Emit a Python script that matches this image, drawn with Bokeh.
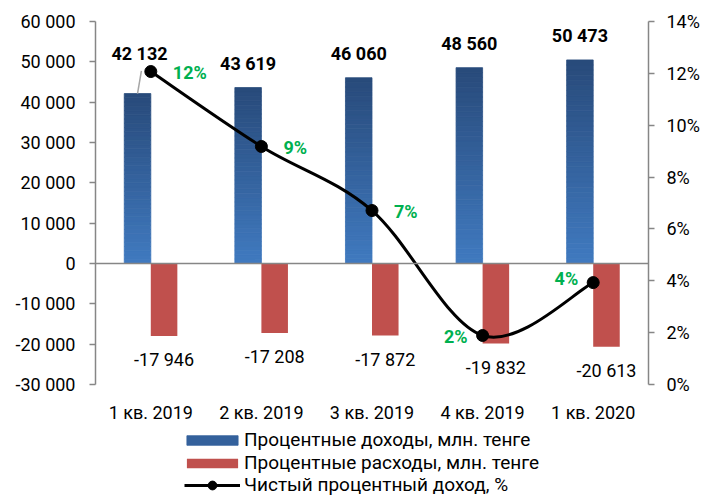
import numpy as np
from bokeh.plotting import figure
from bokeh.models import (Range1d, LinearAxis, FixedTicker, Span, Legend, LegendItem,
                          ColumnDataSource)
from bokeh.core.properties import value
from bokeh.embed import file_html
from bokeh.resources import INLINE

# ---------------- data ----------------
quarters = ["1 кв. 2019", "2 кв. 2019", "3 кв. 2019", "4 кв. 2019", "1 кв. 2020"]
income = [42132, 43619, 46060, 48560, 50473]          # Процентные доходы
expense = [-17946, -17208, -17872, -19832, -20613]    # Процентные расходы
net_margin = [12.07, 9.18, 6.71, 1.89, 3.93]           # Чистый процентный доход, %
margin_labels = ["12%", "9%", "7%", "2%", "4%"]
left_ticks = [-30000, -20000, -10000, 0, 10000, 20000, 30000, 40000, 50000, 60000]
left_tick_labels = ["-30 000", "-20 000", "-10 000", "0", "10 000", "20 000",
                    "30 000", "40 000", "50 000", "60 000"]
right_ticks = [0, 2, 4, 6, 8, 10, 12, 14]
right_tick_labels = ["0%", "2%", "4%", "6%", "8%", "10%", "12%", "14%"]
series_names = ["Процентные доходы, млн. тенге",
                "Процентные расходы, млн. тенге",
                "Чистый процентный доход, %"]

FONT = "Roboto"
AXIS_COLOR = "#868686"
RED = "#c0504d"
GREEN = "#00b050"
BLUE_TOP = np.array([40, 74, 122])
BLUE_BOTTOM = np.array([64, 122, 192])

# plot box: the axes occupy 363 px, and 112 px are kept below them for
# the category labels and the legend (drawn inside the same frame)
AXIS_PX, BELOW_PX = 363, 112
L0, L1 = left_ticks[0], left_ticks[-1]
R0, R1 = right_ticks[0], right_ticks[-1]
left_start = L0 - (L1 - L0) * BELOW_PX / AXIS_PX
right_start = R0 - (R1 - R0) * BELOW_PX / AXIS_PX


def fmt(v):
    return f"{v:,}".replace(",", " ")


xs = np.arange(1, len(quarters) + 1)
BW = 0.24

p = figure(width=707, height=496, output_backend="svg", toolbar_location=None,
           x_axis_location=None,
           x_range=Range1d(0.5, len(quarters) + 0.5), y_range=Range1d(left_start, L1),
           min_border_left=95, min_border_right=59, min_border_top=21, min_border_bottom=0)
p.outline_line_color = None
p.grid.visible = False
p.background_fill_color = "white"
p.border_fill_color = "white"
p.extra_y_ranges = {"pct": Range1d(right_start, R1)}

# ---- axes ----
p.yaxis.ticker = FixedTicker(ticks=left_ticks)
p.yaxis.bounds = (L0, L1)
p.yaxis.major_label_overrides = {t: l for t, l in zip(left_ticks, left_tick_labels)}
p.yaxis.axis_line_color = AXIS_COLOR
p.yaxis.axis_line_width = 1.5
p.yaxis.major_tick_line_color = AXIS_COLOR
p.yaxis.major_tick_line_width = 1.5
p.yaxis.major_tick_out = 6
p.yaxis.major_tick_in = 0
p.yaxis.minor_tick_line_color = None
p.yaxis.major_label_standoff = 14
p.yaxis.major_label_text_font = FONT
p.yaxis.major_label_text_font_size = "18px"
p.yaxis.major_label_text_color = "black"

ry = LinearAxis(y_range_name="pct", ticker=FixedTicker(ticks=right_ticks), bounds=(R0, R1))
ry.major_label_overrides = {t: l for t, l in zip(right_ticks, right_tick_labels)}
ry.axis_line_color = AXIS_COLOR
ry.axis_line_width = 1.5
ry.major_tick_line_color = AXIS_COLOR
ry.major_tick_line_width = 1.5
ry.major_tick_out = 6
ry.major_tick_in = 0
ry.minor_tick_line_color = None
ry.major_label_standoff = 12
ry.major_label_text_font = FONT
ry.major_label_text_font_size = "18px"
ry.major_label_text_color = "black"
p.add_layout(ry, "right")

p.add_layout(Span(location=0, dimension="width", line_color=AXIS_COLOR, line_width=1.5))

# category labels under the axes
p.text(x=list(xs), y=[L0] * len(xs), text=quarters, y_offset=28,
       text_align="center", text_baseline="middle", text_font=value(FONT),
       text_font_size="18px", text_color="black")

# ---- income bars with vertical gradient (slices of each bar) ----
N = 40
bx, bb, bt, bc = [], [], [], []
for x, v in zip(xs, income):
    for k in range(N):
        f = (k + 0.5) / N
        c = BLUE_BOTTOM + (BLUE_TOP - BLUE_BOTTOM) * f
        col = "#%02x%02x%02x" % tuple(int(round(t)) for t in c)
        bx.append(x - BW / 2)
        bb.append(v * k / N)
        bt.append(v * (k + 1) / N)
        bc.append(col)
blue_src = ColumnDataSource(dict(x=bx, bottom=bb, top=bt, color=bc))
blue_r = p.vbar(x="x", bottom="bottom", top="top", width=BW, fill_color="color",
                line_color="color", line_width=0.8, source=blue_src)

red_r = p.vbar(x=xs + BW / 2, top=expense, bottom=0, width=BW, fill_color=RED, line_color=None)

# ---- smoothed net-margin line (cubic Bezier through the points) ----
px = list(xs.astype(float))
py = list(net_margin)
n = len(px)
x0s, y0s, x1s, y1s, cx0, cy0, cx1, cy1 = [], [], [], [], [], [], [], []
for i in range(n - 1):
    xp, yp = (px[i - 1], py[i - 1]) if i > 0 else (px[i], py[i])
    xn, yn = (px[i + 2], py[i + 2]) if i + 2 < n else (px[i + 1], py[i + 1])
    x0s.append(px[i]); y0s.append(py[i]); x1s.append(px[i + 1]); y1s.append(py[i + 1])
    cx0.append(px[i] + (px[i + 1] - xp) / 6); cy0.append(py[i] + (py[i + 1] - yp) / 6)
    cx1.append(px[i + 1] - (xn - px[i]) / 6); cy1.append(py[i + 1] - (yn - py[i]) / 6)
line_r = p.bezier(x0=x0s, y0=y0s, x1=x1s, y1=y1s, cx0=cx0, cy0=cy0, cx1=cx1, cy1=cy1,
                  line_color="black", line_width=3, y_range_name="pct")
mark_r = p.scatter(x=xs, y=net_margin, size=12, marker="circle", fill_color="black",
                   line_color="black", y_range_name="pct")

# ---- data labels ----
inc_txt = [fmt(v) for v in income]
# first label is lifted above the line marker, with a leader line
p.segment(x0=[xs[0] - BW / 2], y0=[income[0]], x1=[xs[0] - BW / 2 + 0.035],
          y1=[income[0] + 5600], line_color="#a6a6a6", line_width=1.5)
p.text(x=[xs[0] - BW / 2], y=[income[0]], text=[inc_txt[0]], x_offset=2, y_offset=-40,
       text_align="center", text_baseline="middle", text_font=value(FONT),
       text_font_size="18px", text_font_style="bold", text_color="black")
p.text(x=list(xs[1:] - BW / 2), y=income[1:], text=inc_txt[1:], y_offset=-24,
       text_align="center", text_baseline="middle", text_font=value(FONT),
       text_font_size="18px", text_font_style="bold", text_color="black")
p.text(x=list(xs + BW / 2), y=expense, text=[fmt(v) for v in expense], y_offset=24,
       text_align="center", text_baseline="middle", text_font=value(FONT),
       text_font_size="18px", text_color="black")
p.text(x=list(xs[:3]), y=net_margin[:3], text=margin_labels[:3], x_offset=22, y_offset=1,
       text_align="left", text_baseline="middle", text_font=value(FONT),
       text_font_size="18px", text_font_style="bold", text_color=GREEN, y_range_name="pct")
p.text(x=list(xs[3:]), y=net_margin[3:], text=margin_labels[3:], x_offset=-15,
       y_offset=[1, -4], text_align="right", text_baseline="middle", text_font=value(FONT),
       text_font_size="18px", text_font_style="bold", text_color=GREEN, y_range_name="pct")

# ---- legend (bars and line kept in two blocks so each swatch gets its own size) ----
common = dict(orientation="vertical", padding=0, spacing=0, margin=0, label_height=22,
              label_text_font=FONT, label_text_font_size="19px", label_text_color="black",
              border_line_color=None, background_fill_alpha=0)
legend_bars = Legend(items=[
    LegendItem(label=series_names[0], renderers=[blue_r], index=N // 2),
    LegendItem(label=series_names[1], renderers=[red_r]),
], location=(85, 22), glyph_height=12, glyph_width=64, label_standoff=0, **common)
legend_line = Legend(items=[
    LegendItem(label=series_names[2], renderers=[line_r, mark_r]),
], location=(89, 0), glyph_height=22, glyph_width=56, label_standoff=4, **common)
p.add_layout(legend_bars, "center")
p.add_layout(legend_line, "center")

open("out.html", "w").write(file_html(p, INLINE))
